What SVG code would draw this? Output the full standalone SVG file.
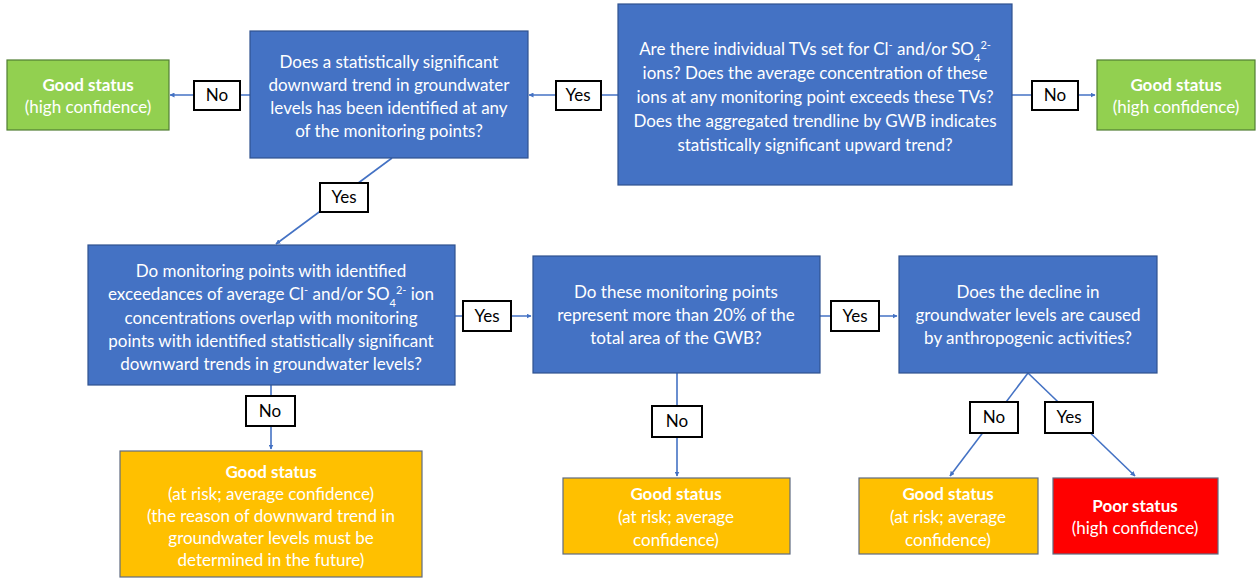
<svg xmlns="http://www.w3.org/2000/svg" width="1260" height="583" viewBox="0 0 1260 583">
  <style>
    .q { fill: #4472C4; stroke: #2F528F; stroke-width: 1.2; }
    .ok { fill: #92D050; stroke: #507E32; stroke-width: 1.2; }
    .risk { fill: #FFC000; stroke: #5F6B80; stroke-width: 1.2; }
    .bad { fill: #FF0000; stroke: #5F6B80; stroke-width: 1.2; }
    .lbl { fill: #FFFFFF; stroke: #000000; stroke-width: 2; }
    text { font-family: Lato, "Open Sans", "Liberation Sans", sans-serif; font-size: 17px; text-anchor: middle; }
    .w { fill: #FFFFFF; }
    .k { fill: #000000; }
    .b { font-weight: bold; }
    .sub { font-size: 11px; }
    .edge { fill: none; stroke: #4472C4; stroke-width: 1.6; }
  </style>
  <defs>
    <marker id="arr" viewBox="0 0 10 10" refX="9" refY="5" markerWidth="5" markerHeight="5" orient="auto" markerUnits="userSpaceOnUse">
      <path d="M0,0 L10,5 L0,10 z" fill="#4472C4"/>
    </marker>
  </defs>
  <rect width="1260" height="583" fill="#FFFFFF"/>

  <!-- connectors -->
  <g id="connectors">
    <line class="edge" x1="618" y1="95" x2="529" y2="95" marker-end="url(#arr)"/>
    <line class="edge" x1="250" y1="95" x2="170" y2="95" marker-end="url(#arr)"/>
    <line class="edge" x1="1012" y1="95" x2="1095" y2="95" marker-end="url(#arr)"/>
    <line class="edge" x1="392" y1="158" x2="276" y2="244" marker-end="url(#arr)"/>
    <line class="edge" x1="455" y1="316" x2="531" y2="316" marker-end="url(#arr)"/>
    <line class="edge" x1="820" y1="316" x2="897" y2="316" marker-end="url(#arr)"/>
    <line class="edge" x1="271" y1="385" x2="271" y2="449" marker-end="url(#arr)"/>
    <line class="edge" x1="677" y1="373" x2="677" y2="476" marker-end="url(#arr)"/>
    <line class="edge" x1="1028" y1="373" x2="950" y2="476" marker-end="url(#arr)"/>
    <line class="edge" x1="1028" y1="373" x2="1135" y2="476" marker-end="url(#arr)"/>
  </g>

  <!-- decision boxes -->
  <g id="q-tv">
    <rect class="q" x="618" y="4" width="394" height="181"/>
    <text class="w" x="815" y="55">Are there individual TVs set for Cl<tspan class="sub" baseline-shift="super">-</tspan> and/or SO<tspan class="sub" baseline-shift="sub">4</tspan><tspan class="sub" baseline-shift="super">2-</tspan></text>
    <text class="w" x="815" y="79">ions? Does the average concentration of these</text>
    <text class="w" x="815" y="103">ions at any monitoring point exceeds these TVs?</text>
    <text class="w" x="815" y="127">Does the aggregated trendline by GWB indicates</text>
    <text class="w" x="815" y="151">statistically significant upward trend?</text>
  </g>

  <g id="q-trend">
    <rect class="q" x="250" y="31" width="278" height="127"/>
    <text class="w" x="389" y="68">Does a statistically significant</text>
    <text class="w" x="389" y="91">downward trend in groundwater</text>
    <text class="w" x="389" y="114">levels has been identified at any</text>
    <text class="w" x="389" y="137">of the monitoring points?</text>
  </g>

  <g id="q-overlap">
    <rect class="q" x="88" y="245" width="367" height="140"/>
    <text class="w" x="271" y="277">Do monitoring points with identified</text>
    <text class="w" x="271" y="300">exceedances of average Cl<tspan class="sub" baseline-shift="super">-</tspan> and/or SO<tspan class="sub" baseline-shift="sub">4</tspan><tspan class="sub" baseline-shift="super">2-</tspan> ion</text>
    <text class="w" x="271" y="324">concentrations overlap with monitoring</text>
    <text class="w" x="271" y="347">points with identified statistically significant</text>
    <text class="w" x="271" y="370">downward trends in groundwater levels?</text>
  </g>

  <g id="q-area">
    <rect class="q" x="533" y="256" width="287" height="117"/>
    <text class="w" x="676" y="298">Do these monitoring points</text>
    <text class="w" x="676" y="321">represent more than 20% of the</text>
    <text class="w" x="676" y="344">total area of the GWB?</text>
  </g>

  <g id="q-cause">
    <rect class="q" x="899" y="256" width="258" height="117"/>
    <text class="w" x="1028" y="298">Does the decline in</text>
    <text class="w" x="1028" y="321">groundwater levels are caused</text>
    <text class="w" x="1028" y="344">by anthropogenic activities?</text>
  </g>

  <!-- outcome boxes -->
  <g id="good-left">
    <rect class="ok" x="7" y="60" width="162" height="70"/>
    <text class="w b" x="88" y="91">Good status</text>
    <text class="w" x="88" y="113">(high confidence)</text>
  </g>

  <g id="good-right">
    <rect class="ok" x="1097" y="60" width="158" height="70"/>
    <text class="w b" x="1176" y="91">Good status</text>
    <text class="w" x="1176" y="113">(high confidence)</text>
  </g>

  <g id="risk-future">
    <rect class="risk" x="120" y="451" width="302" height="126"/>
    <text class="w b" x="271" y="478">Good status</text>
    <text class="w" x="271" y="500">(at risk; average confidence)</text>
    <text class="w" x="271" y="522">(the reason of downward trend in</text>
    <text class="w" x="271" y="544">groundwater levels must be</text>
    <text class="w" x="271" y="566">determined in the future)</text>
  </g>

  <g id="risk-area">
    <rect class="risk" x="563" y="478" width="227" height="76"/>
    <text class="w b" x="676" y="500">Good status</text>
    <text class="w" x="676" y="523">(at risk; average</text>
    <text class="w" x="676" y="546">confidence)</text>
  </g>

  <g id="risk-natural">
    <rect class="risk" x="859" y="478" width="179" height="76"/>
    <text class="w b" x="948" y="500">Good status</text>
    <text class="w" x="948" y="523">(at risk; average</text>
    <text class="w" x="948" y="546">confidence)</text>
  </g>

  <g id="poor">
    <rect class="bad" x="1053" y="478" width="165" height="76"/>
    <text class="w b" x="1135" y="512">Poor status</text>
    <text class="w" x="1135" y="534">(high confidence)</text>
  </g>

  <!-- edge labels -->
  <g id="label-no-1">
    <rect class="lbl" x="194" y="81" width="46" height="29"/>
    <text class="k" x="217" y="101">No</text>
  </g>
  <g id="label-yes-1">
    <rect class="lbl" x="556" y="81" width="45" height="29"/>
    <text class="k" x="578" y="101">Yes</text>
  </g>
  <g id="label-no-2">
    <rect class="lbl" x="1032" y="81" width="46" height="29"/>
    <text class="k" x="1055" y="101">No</text>
  </g>
  <g id="label-yes-2">
    <rect class="lbl" x="320" y="183" width="48" height="29"/>
    <text class="k" x="344" y="203">Yes</text>
  </g>
  <g id="label-yes-3">
    <rect class="lbl" x="463" y="301" width="48" height="30"/>
    <text class="k" x="487" y="322">Yes</text>
  </g>
  <g id="label-yes-4">
    <rect class="lbl" x="831" y="301" width="48" height="30"/>
    <text class="k" x="855" y="322">Yes</text>
  </g>
  <g id="label-no-3">
    <rect class="lbl" x="246" y="396" width="49" height="30"/>
    <text class="k" x="270" y="417">No</text>
  </g>
  <g id="label-no-4">
    <rect class="lbl" x="652" y="406" width="50" height="31"/>
    <text class="k" x="677" y="427">No</text>
  </g>
  <g id="label-no-5">
    <rect class="lbl" x="970" y="402" width="48" height="31"/>
    <text class="k" x="994" y="423">No</text>
  </g>
  <g id="label-yes-5">
    <rect class="lbl" x="1045" y="402" width="48" height="31"/>
    <text class="k" x="1069" y="423">Yes</text>
  </g>
</svg>
